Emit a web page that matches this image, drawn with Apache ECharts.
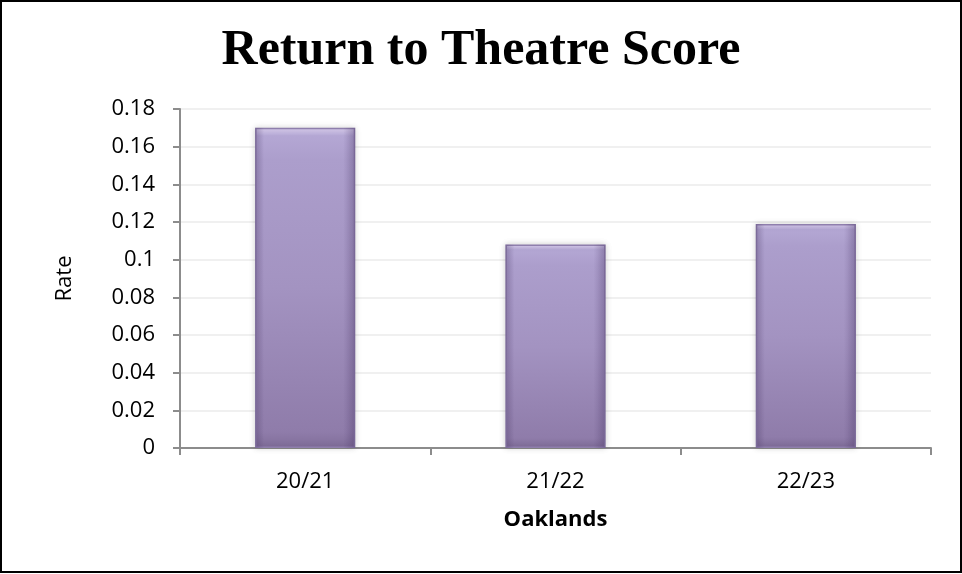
<!DOCTYPE html>
<html>
<head>
<meta charset="utf-8">
<script src="https://cdn.jsdelivr.net/npm/echarts@6/dist/echarts.min.js"></script>
<style>
html,body{margin:0;padding:0;background:#fff;}
#c{width:962px;height:574px;}
</style>
</head>
<body>
<div id="c"></div>
<script>
const titleText = "Return to Theatre Score";
const categories = ["20/21", "21/22", "22/23"];
const values = [0.17, 0.108, 0.119];
const yTicks = { min: 0, max: 0.18, interval: 0.02 };
const xName = "Oaklands";
const yName = "Rate";

const chart = echarts.init(document.getElementById('c'), null, {renderer: 'canvas'});
const barColor = new echarts.graphic.LinearGradient(0, 0, 0, 1, [
  {offset: 0, color: '#ddd2f2'},
  {offset: 0.025, color: '#b4a7d4'},
  {offset: 0.1, color: '#ac9ecc'},
  {offset: 0.5, color: '#a393c1'},
  {offset: 0.95, color: '#8f7caa'},
  {offset: 1, color: '#806d99'}
]);
const edgeShade = new echarts.graphic.LinearGradient(0, 0, 1, 0, [
  {offset: 0, color: 'rgba(70,50,100,0.28)'},
  {offset: 0.09, color: 'rgba(70,50,100,0)'},
  {offset: 0.88, color: 'rgba(70,50,100,0)'},
  {offset: 1, color: 'rgba(70,50,100,0.32)'}
]);
chart.setOption({
  animation: false,
  backgroundColor: '#fff',
  title: {
    text: titleText,
    left: 'center',
    top: 21,
    textStyle: {fontFamily: 'Liberation Serif', fontWeight: 'bold', fontSize: 50, color: '#000'}
  },
  grid: {left: 180, right: 31, top: 109, bottom: 126, containLabel: false},
  xAxis: {
    type: 'category',
    data: categories,
    name: xName,
    nameLocation: 'middle',
    nameGap: 61,
    nameTextStyle: {fontFamily: 'Open Sans', fontWeight: 'bold', fontSize: 22, color: '#000'},
    axisLine: {lineStyle: {color: '#8c8c8c', width: 2}},
    axisTick: {show: true, length: 7, lineStyle: {color: '#8c8c8c', width: 2}},
    axisLabel: {fontFamily: 'Open Sans', fontSize: 22, color: '#000', margin: 23}
  },
  yAxis: {
    type: 'value',
    min: yTicks.min,
    max: yTicks.max,
    interval: yTicks.interval,
    name: yName,
    nameLocation: 'middle',
    nameGap: 104,
    nameRotate: 90,
    nameTextStyle: {fontFamily: 'Open Sans', fontSize: 22, color: '#000'},
    axisLine: {show: true, lineStyle: {color: '#8c8c8c', width: 2}},
    axisTick: {show: true, length: 7, lineStyle: {color: '#8c8c8c', width: 2}},
    splitLine: {show: true, lineStyle: {color: '#ebebeb', width: 1.5}},
    axisLabel: {
      fontFamily: 'Open Sans', fontSize: 22, color: '#000', margin: 25,
      formatter: v => String(parseFloat(v.toFixed(2)))
    }
  },
  series: [{
    type: 'bar',
    data: values,
    barWidth: '40%',
    barGap: '-100%',
    itemStyle: {
      color: barColor,
      borderColor: '#8f7fad',
      borderWidth: 1.5,
      shadowBlur: 6,
      shadowColor: 'rgba(0,0,0,0.18)'
    }
  }, {
    type: 'bar',
    data: values,
    barWidth: '40%',
    barGap: '-100%',
    silent: true,
    z: 3,
    itemStyle: {color: edgeShade, borderWidth: 0}
  }],
  graphic: [{
    type: 'rect',
    shape: {x: 1, y: 1, width: 960, height: 571},
    style: {fill: 'none', stroke: '#000', lineWidth: 2},
    silent: true
  }]
});
</script>
</body>
</html>
